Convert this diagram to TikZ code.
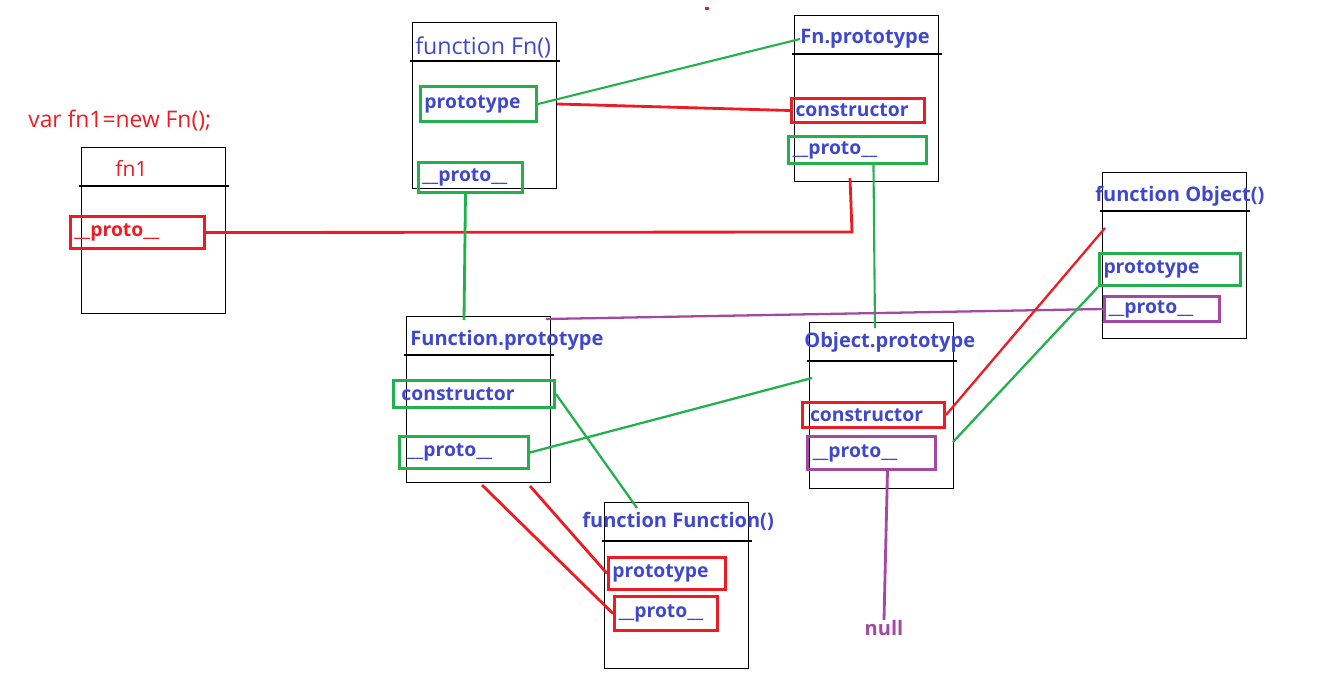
\documentclass[tikz,border=0pt]{standalone}
\usepackage{fontspec}
\setmainfont{Open Sans}
\usetikzlibrary{positioning,calc}
\definecolor{pblue}{RGB}{63,72,204}
\definecolor{pred}{RGB}{237,28,36}
\definecolor{pgreen}{RGB}{34,177,76}
\definecolor{ppurple}{RGB}{163,73,164}
\tikzstyle{obj} = [draw, line width=0.6pt, rectangle, anchor=north west, minimum width=2.88cm, minimum height=3.32cm, inner sep=0pt]
\tikzstyle{head} = [anchor=west, inner sep=0pt, text=pblue, font=\fontsize{11.4}{13}\selectfont\bfseries]
\tikzstyle{slot} = [draw, line width=1.7pt, rectangle, anchor=north west, inner xsep=0.08cm, inner ysep=0pt, align=left, text=pblue, font=\fontsize{11}{13}\selectfont\bfseries]
\tikzstyle{plain} = [anchor=west, inner sep=0pt, font=\fontsize{13}{15}\selectfont]
\tikzstyle{link} = [line width=1.6pt]

\begin{document}
\begin{tikzpicture}[x=0.02cm, y=-0.02cm]
    \useasboundingbox (0,0) rectangle (1332,690);
    % the seven objects
    \node [obj] (fn1box) at (81,147) {};
    \node [obj] (fnbox) at (412,22) {};
    \node [obj] (fnpbox) at (794,15) {};
    \node [obj] (objfbox) at (1102,172) {};
    \node [obj] (funpbox) at (406,316) {};
    \node [obj] (opbox) at (809,322) {};
    \node [obj] (ffbox) at (604,502) {};
    \foreach \b in {fn1box,fnbox,fnpbox,objfbox,funpbox,opbox,ffbox}
        \draw [line width=0.6pt] (\b.north west) ++(-2,39) -- ++(150,0);

    % titles
    \node [plain, text=pred] (decl) at (28,121) {var fn1=new Fn();};
    \node [plain, text=pred, font=\fontsize{12}{14}\selectfont] (fn1t) at (115,168) {fn1};
    \node [plain, text=pblue, font=\fontsize{13.2}{15}\selectfont] (fnt) at (415,47) {function Fn()};
    \node [head] (fnpt) at (800,39) {Fn.prototype};
    \node [head] (objft) at (1095,196) {function Object()};
    \node [head] (funpt) at (410,340) {Function.prototype};
    \node [head] (opt) at (804,342) {Object.prototype};
    \node [head] (fft) at (582,521) {function Function()};
    \node [text=ppurple, inner sep=0pt, font=\fontsize{11.4}{13}\selectfont\bfseries] (null) at (884,628) {null};
    \fill [pred] (705,7) rectangle (709,10);

    % the properties
    \node [slot, draw=pred, text=pred, text width=2.52cm, minimum height=0.64cm] (fn1pro) at (69,215) {\_\_proto\_\_};
    \node [slot, draw=pgreen, text width=2.16cm, minimum height=0.70cm] (fnprot) at (419,85) {prototype};
    \node [slot, draw=pgreen, text width=1.92cm, minimum height=0.60cm] (fnpro) at (417,161) {\_\_proto\_\_};
    \node [slot, draw=pred, text width=2.50cm, minimum height=0.48cm] (fnpctor) at (790,97) {constructor};
    \node [slot, draw=pgreen, text width=2.60cm, minimum height=0.54cm] (fnppro) at (787,135) {\_\_proto\_\_};
    \node [slot, draw=pgreen, text width=2.66cm, minimum height=0.64cm] (objfprot) at (1098,252) {prototype};
    \node [slot, draw=ppurple, text width=2.14cm, minimum height=0.50cm] (objfpro) at (1103,295) {\_\_proto\_\_};
    \node [slot, draw=pgreen, text width=2.90cm, inner xsep=0.16cm, minimum height=0.54cm] (funpctor) at (392,379) {constructor};
    \node [slot, draw=pgreen, text width=2.26cm, inner xsep=0.16cm, minimum height=0.64cm] (funppro) at (398,435) {\_\_proto\_\_};
    \node [slot, draw=pred, text width=2.54cm, inner xsep=0.15cm, minimum height=0.50cm] (opctor) at (801,401) {constructor};
    \node [slot, draw=ppurple, text width=2.36cm, inner xsep=0.10cm, minimum height=0.66cm] (oppro) at (806,435) {\_\_proto\_\_};
    \node [slot, draw=pred, text width=2.18cm, minimum height=0.64cm] (ffprot) at (607,556) {prototype};
    \node [slot, draw=pred, text width=1.90cm, minimum height=0.68cm] (ffpro) at (613,595) {\_\_proto\_\_};

    % the links
    \coordinate (bend) at (852,232);
    \draw [link, pgreen, line width=1.2pt] (fnprot.east) -- (fnpt.west);
    \draw [link, pred] (fnbox.east |- fnprot) -- (fnpctor.west);
    \draw [link, pred] (fn1pro.east) -- (bend) -- ($(fnpbox.south west)+(56,-4)$);
    \draw [link, pgreen] (fnpro.south) ++(-5,0) -- ($(funpbox.north west)+(58,4)$);
    \draw [link, pgreen, line width=1.2pt] ($(fnppro.south)+(16,0)$) -- ($(opbox.north west)+(66,6)$);
    \draw [link, ppurple, line width=1.3pt] ($(funpbox.north east)+(-5,3)$) -- (objfpro.west);
    \draw [link, pred, line width=1.3pt] ($(objfbox.north west)+(3,56)$) -- (opctor.east);
    \draw [link, pgreen, line width=1.3pt] (objfprot.south west) -- ($(opbox.north east)+(-1,120)$);
    \draw [link, pgreen, line width=1.3pt] (funppro.east) -- ($(opbox.north west)+(3,56)$);
    \draw [link, pgreen, line width=1.3pt] (funpctor.east) -- ($(ffbox.north west)+(33,6)$);
    \draw [link, pred] ($(funpbox.south west)+(124,3)$) -- (ffprot.west);
    \draw [link, pred] ($(funpbox.south west)+(76,2)$) -- (ffpro.west);
    \draw [link, ppurple] ($(oppro.south)+(16,0)$) -- (null.north);
\end{tikzpicture}
\end{document}
